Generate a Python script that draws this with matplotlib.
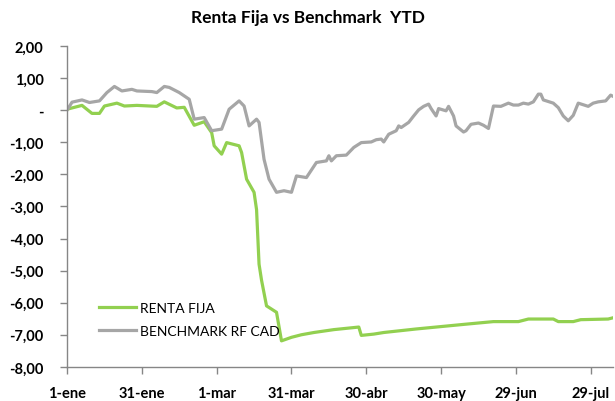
#!/usr/bin/env python3
"""Renta Fija vs Benchmark YTD -- line chart recreated with matplotlib."""
import matplotlib
matplotlib.use("Agg")
import matplotlib.pyplot as plt
import matplotlib.dates as mdates
import numpy as np
from datetime import datetime

# days since 1-ene-2020 and YTD return (%)
renta_days = [0, 6, 10, 13, 15, 20, 23, 28, 36, 39, 44, 47, 51, 55, 58, 59,
              62, 64, 69, 70, 72, 75, 76, 77, 78, 80, 84, 86, 90, 94, 99,
              107, 117, 118, 123, 127, 140, 160, 171, 181, 185, 195, 197,
              203, 206, 217, 219]
renta_vals = [0.03, 0.15, -0.10, -0.10, 0.13, 0.22, 0.13, 0.15, 0.12, 0.26,
              0.07, 0.09, -0.47, -0.36, -0.70, -1.11, -1.37, -1.01, -1.11,
              -1.32, -2.15, -2.56, -3.10, -4.80, -5.30, -6.10, -6.30, -7.19,
              -7.08, -7.00, -6.93, -6.84, -6.76, -7.02, -6.98, -6.93, -6.82,
              -6.67, -6.59, -6.59, -6.51, -6.51, -6.59, -6.59, -6.53, -6.51,
              -6.47]

bench_days = [0, 2, 6, 9, 13, 16, 19, 22, 26, 28, 34, 36, 39, 41, 45, 49, 51,
              55, 58, 62, 65, 69, 71, 73, 76, 77, 79, 81, 84, 87, 90, 92, 96,
              100, 104, 105, 106, 108, 112, 115, 118, 122, 124, 126, 127, 129,
              132, 133, 134, 137, 139, 141, 143, 145, 146, 148, 149, 152, 153,
              155, 156, 159, 160, 162, 165, 167, 169, 171, 174, 177, 179, 181,
              183, 185, 187, 189, 190, 191, 195, 197, 199, 201, 203, 205, 209,
              211, 213, 216, 218, 219]
bench_vals = [0.00, 0.25, 0.32, 0.24, 0.29, 0.55, 0.74, 0.60, 0.65, 0.60,
              0.58, 0.55, 0.74, 0.71, 0.55, 0.34, -0.28, -0.23, -0.64, -0.59,
              0.03, 0.29, 0.13, -0.49, -0.28, -0.38, -1.53, -2.15, -2.56,
              -2.51, -2.56, -2.05, -2.10, -1.63, -1.58, -1.42, -1.58, -1.42,
              -1.40, -1.16, -1.01, -0.99, -0.92, -0.90, -0.99, -0.75, -0.64,
              -0.49, -0.54, -0.38, -0.18, 0.01, 0.12, 0.19, 0.05, -0.18, 0.05,
              -0.02, 0.12, -0.18, -0.49, -0.68, -0.64, -0.44, -0.40, -0.47,
              -0.57, 0.13, 0.12, 0.22, 0.16, 0.16, 0.22, 0.19, 0.26, 0.50,
              0.50, 0.32, 0.22, 0.08, -0.18, -0.33, -0.16, 0.22, 0.12, 0.22,
              0.26, 0.29, 0.47, 0.43]

tick_days = [0, 30, 60, 90, 120, 150, 180, 210]
tick_labels = ["1-ene", "31-ene", "1-mar", "31-mar", "30-abr", "30-may",
               "29-jun", "29-jul"]
y_ticks = [2, 1, 0, -1, -2, -3, -4, -5, -6, -7, -8]

GREEN = "#92D050"
GREY = "#A6A6A6"
AXIS = "#868686"

plt.rcParams["font.family"] = ["Lato", "DejaVu Sans"]

base = mdates.date2num(datetime(2020, 1, 1))
rx = base + np.array(renta_days)
bx = base + np.array(bench_days)

fig = plt.figure(figsize=(6.15, 4.02), dpi=100)
ax = fig.add_axes([0.109, 0.085, 0.888, 0.798])

ax.plot(rx, renta_vals, color=GREEN, linewidth=2.3, label="RENTA FIJA",
        solid_joinstyle="round")
ax.plot(bx, bench_vals, color=GREY, linewidth=2.3, label="BENCHMARK RF CAD",
        solid_joinstyle="round")

ax.set_xlim(base, base + 219)
ax.set_ylim(-8, 2)
ax.set_xticks(base + np.array(tick_days))
ax.set_xticklabels(tick_labels, fontweight="bold", fontsize=10.5)
ax.set_yticks(y_ticks)
ax.set_yticklabels(["-" if v == 0 else f"{v:.2f}".replace(".", ",")
                    for v in y_ticks], fontweight="bold", fontsize=10.5)

for side in ("top", "right"):
    ax.spines[side].set_visible(False)
for side in ("left", "bottom"):
    ax.spines[side].set_color(AXIS)
    ax.spines[side].set_linewidth(1.0)
ax.tick_params(axis="both", colors=AXIS, length=5, width=1.0, labelcolor="black")
ax.tick_params(axis="y", pad=12)
ax.tick_params(axis="x", pad=9)

fig.text(0.5, 0.955, "Renta Fija vs Benchmark  YTD", fontweight="bold",
         fontsize=12.5, ha="center", va="center")

ax.legend(loc="lower left", bbox_to_anchor=(0.035, 0.055), frameon=False,
          fontsize=10, handlelength=2.7, handletextpad=0.3, labelspacing=0.75)

fig.savefig("out.png", dpi=100)
